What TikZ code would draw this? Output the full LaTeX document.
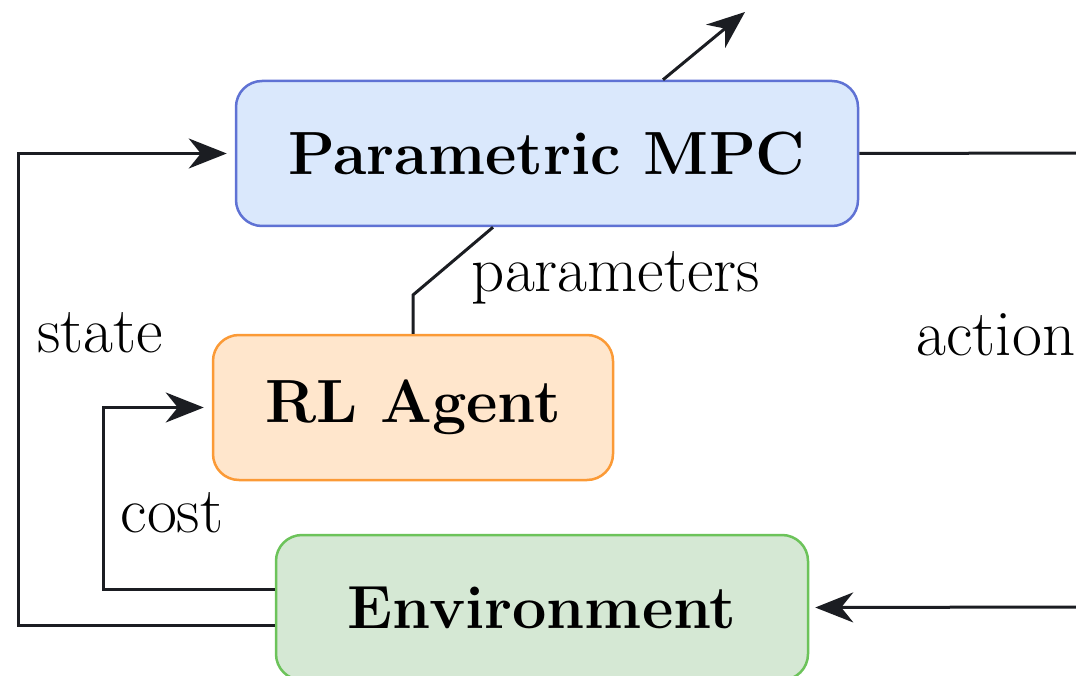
\documentclass[tikz,border=0pt]{standalone}
\usetikzlibrary{arrows.meta}
\definecolor{mpcfill}{HTML}{DAE8FC}
\definecolor{mpcdraw}{HTML}{5F72D4}
\definecolor{rlfill}{HTML}{FFE6CC}
\definecolor{rldraw}{HTML}{FB9A36}
\definecolor{envfill}{HTML}{D5E8D4}
\definecolor{envdraw}{HTML}{6CC35A}
\definecolor{linecol}{HTML}{1B1D22}
\tikzset{
  box/.style={rectangle, rounded corners=26pt, line width=2.5pt, inner sep=0pt,
    font=\fontsize{61}{63}\selectfont\bfseries},
  conn/.style={draw=linecol, line width=3pt},
  arr/.style={conn, -{Stealth[length=38pt,width=30pt,inset=12pt]}},
  lbl/.style={inner sep=0pt, font=\fontsize{65}{67}\selectfont},
}
\begin{document}
\begin{tikzpicture}[x=1pt,y=-1pt]
\useasboundingbox (0,0) rectangle (1076,676);
\clip (0,0) rectangle (1076,676);
\node[box, fill=mpcfill, draw=mpcdraw, minimum width=622pt, minimum height=145pt] (mpc) at (547,153.5) {Parametric MPC};
\node[box, fill=rlfill, draw=rldraw, minimum width=400pt, minimum height=145pt] (rl) at (413,407.5) {RL Agent};
\node[box, fill=envfill, draw=envdraw, minimum width=532pt, minimum height=145pt] (env) at (542,607.5) {Environment};

\node[lbl] (state) at (100,333) {state};
\node[lbl] (params) at (616,278) {parameters};
\node[lbl] (action) at (996,335) {action};
\node[lbl] (cost) at (172,513) {cost};

\coordinate (stateL) at (18,625);
\coordinate (costL) at (103,589);
\coordinate (pbend) at (413,295);
\coordinate (actR1) at (1080,153);
\coordinate (actR2) at (1080,607);
\coordinate (topEnd) at (745,12);

% state
\draw[arr] (env.west |- stateL) -- (stateL) -- (stateL |- mpc.west) -- ([xshift=-8pt]mpc.west);
% cost
\draw[arr] (env.west |- costL) -- (costL) -- (costL |- rl.west) -- ([xshift=-8pt]rl.west);
% parameters
\draw[conn] (rl.north) -- (pbend) -- (mpc.south -| 493,0);
% action
\draw[conn] (mpc.east) -- (actR1);
\draw[arr] (actR2) -- ([xshift=6pt]env.east);
% top output
\draw[arr] (mpc.north -| 663,0) -- (topEnd);
\end{tikzpicture}
\end{document}
